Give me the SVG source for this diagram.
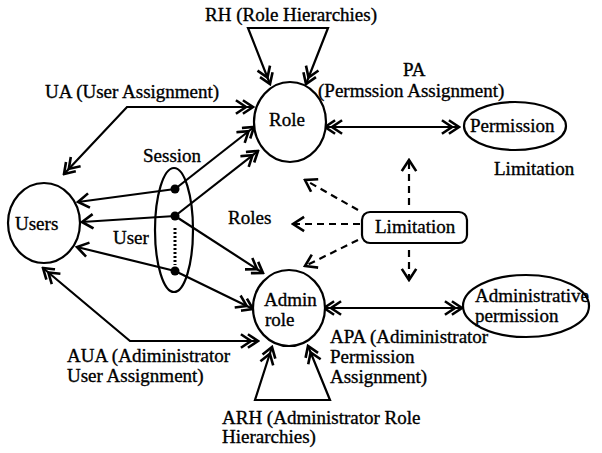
<svg xmlns="http://www.w3.org/2000/svg" width="602" height="453" viewBox="0 0 602 453">
  <style>
    text { font-family: "Liberation Serif", "DejaVu Serif", "Times New Roman", serif; font-size: 19px; fill: #000; stroke: #000; stroke-width: 0.35; }
    .shape { fill: #fff; stroke: #000; stroke-width: 2.2; }
    .link { fill: none; stroke: #000; stroke-width: 2.2; }
    .dash { fill: none; stroke: #000; stroke-width: 2.2; stroke-dasharray: 7 5; }
    .mk { fill: none; stroke: #000; stroke-width: 2.6; stroke-linecap: square; }
  </style>
  <defs>
    <!-- double open chevron -->
    <marker id="dbl" markerUnits="userSpaceOnUse" viewBox="-20 -9 22 18" refX="0" refY="0" markerWidth="22" markerHeight="18" orient="auto-start-reverse">
      <path class="mk" d="M-9,-6 L0,0 L-9,6 M-16,-6 L-7,0 L-16,6"/>
    </marker>
    <!-- single open chevron -->
    <marker id="sgl" markerUnits="userSpaceOnUse" viewBox="-13 -9 15 18" refX="0" refY="0" markerWidth="15" markerHeight="18" orient="auto-start-reverse">
      <path class="mk" d="M-10,-6.5 L0,0 L-10,6.5"/>
    </marker>
  </defs>

  <!-- connectors -->
  <g id="connectors">
    <!-- RH -->
    <path class="link" d="M270,84 L248,28 L328,28 L306,84" marker-start="url(#dbl)" marker-end="url(#dbl)"/>
    <!-- UA -->
    <path class="link" d="M253,107 L127,107 L64,174" marker-start="url(#dbl)" marker-end="url(#dbl)"/>
    <!-- session to roles -->
    <path class="link" d="M175,189 L254,127" marker-end="url(#dbl)"/>
    <path class="link" d="M175,216 L258,151" marker-end="url(#dbl)"/>
    <path class="link" d="M175,216 L263,273" marker-end="url(#dbl)"/>
    <path class="link" d="M175,271 L253,309" marker-end="url(#dbl)"/>
    <!-- session to users -->
    <path class="link" d="M175,189 L78,202" marker-end="url(#sgl)"/>
    <path class="link" d="M175,216 L82,222" marker-end="url(#sgl)"/>
    <path class="link" d="M175,271 L77,247" marker-end="url(#sgl)"/>
    <!-- AUA -->
    <path class="link" d="M43,268 L130,341 L258,341" marker-start="url(#dbl)" marker-end="url(#dbl)"/>
    <!-- ARH -->
    <path class="link" d="M272,347 L255,400 L330,400 L308,346" marker-start="url(#dbl)" marker-end="url(#dbl)"/>
    <!-- PA -->
    <path class="link" d="M325,127 L459,127" marker-start="url(#dbl)" marker-end="url(#dbl)"/>
    <!-- APA -->
    <path class="link" d="M324,308 L462,308" marker-start="url(#dbl)" marker-end="url(#dbl)"/>
    <!-- limitation arrows -->
    <path class="dash" d="M409,205 L409,160" marker-end="url(#sgl)"/>
    <path class="dash" d="M409,250 L409,280" marker-end="url(#sgl)"/>
    <path class="dash" d="M360,224 L293,224" marker-end="url(#sgl)"/>
    <path class="dash" d="M358,210 L305,180" marker-end="url(#sgl)"/>
    <path class="dash" d="M358,240 L305,266" marker-end="url(#sgl)"/>
  </g>

  <!-- nodes -->
  <g id="users">
    <ellipse class="shape" cx="44" cy="223" rx="36" ry="40"/>
    <text x="15" y="230">Users</text>
  </g>
  <g id="session">
    <ellipse class="link" cx="174" cy="230" rx="19" ry="62"/>
    <line x1="175" y1="228" x2="175" y2="265" stroke="#000" stroke-width="3" stroke-dasharray="2 2"/>
    <circle cx="175" cy="189" r="4.5"/>
    <circle cx="175" cy="216" r="4.5"/>
    <circle cx="175" cy="271" r="4.5"/>
  </g>
  <g id="role">
    <ellipse class="shape" cx="290" cy="122" rx="36" ry="40"/>
    <text x="269" y="126">Role</text>
  </g>
  <g id="admin-role">
    <ellipse class="shape" cx="289" cy="308" rx="36" ry="38"/>
    <text x="264" y="306">Admin</text>
    <text x="265" y="326">role</text>
  </g>
  <g id="permission">
    <ellipse class="shape" cx="515" cy="126" rx="51" ry="24"/>
    <text x="470" y="132">Permission</text>
  </g>
  <g id="admin-permission">
    <ellipse class="shape" cx="526" cy="306" rx="63" ry="31"/>
    <text x="475" y="302">Administrative</text>
    <text x="475" y="322">permission</text>
  </g>
  <g id="limitation">
    <rect class="shape" x="362" y="212" width="105" height="31" rx="8"/>
    <text x="375" y="233">Limitation</text>
  </g>

  <!-- labels -->
  <g id="labels">
    <text x="205" y="21">RH (Role Hierarchies)</text>
    <text x="45" y="98">UA (User Assignment)</text>
    <text x="403" y="76">PA</text>
    <text x="318" y="97">(Permssion Assignment)</text>
    <text x="494" y="175">Limitation</text>
    <text x="143" y="162">Session</text>
    <text x="228" y="224">Roles</text>
    <text x="113" y="244">User</text>
    <text x="67" y="362">AUA (Adiministrator</text>
    <text x="67" y="382">User Assignment)</text>
    <text x="330" y="343">APA (Adiministrator</text>
    <text x="330" y="363">Permission</text>
    <text x="330" y="383">Assignment)</text>
    <text x="222" y="424">ARH (Administrator Role</text>
    <text x="222" y="443">Hierarchies)</text>
  </g>
</svg>
